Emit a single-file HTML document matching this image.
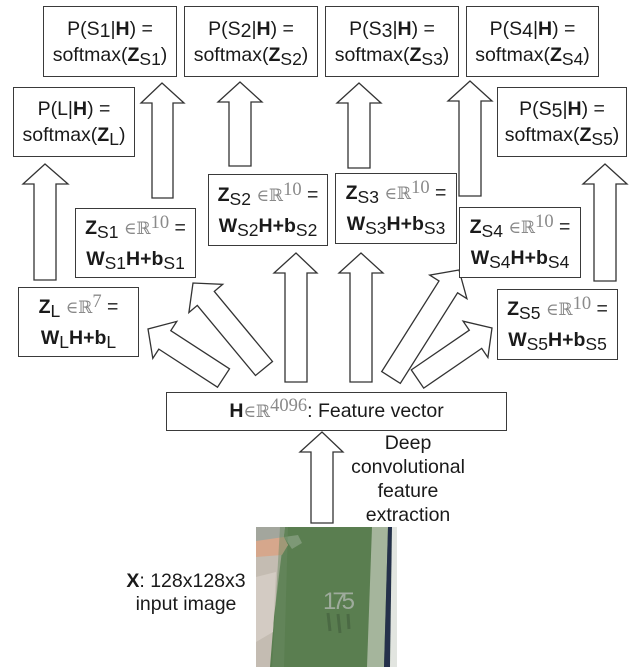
<!DOCTYPE html>
<html><head><meta charset="utf-8"><style>
html,body{margin:0;padding:0;background:#fff}
#c{position:relative;width:641px;height:672px;overflow:hidden;background:#fff;font-family:"Liberation Sans",Helvetica,Arial,sans-serif;color:#1a1a1a}
.b{position:absolute;box-sizing:border-box;border:1.5px solid #3a3a3a;background:#fff;display:flex;flex-direction:column;justify-content:center;align-items:center;font-size:19.5px;white-space:nowrap}
.t .l{line-height:26px}
.m .l{line-height:30px}
.s{font-size:17.5px;position:relative;top:4px}
.s1{position:relative;top:2px}
.r{color:#8a8a8a;font-family:"DejaVu Serif","Liberation Serif",serif;font-size:17px}
.sup{color:#8a8a8a;font-family:"Liberation Serif",serif;font-size:18.5px;position:relative;top:-6px}
.tx{position:absolute;font-size:19.5px;text-align:center;white-space:nowrap}
svg{position:absolute;left:0;top:0}
</style></head><body><div id="c">
<svg width="641" height="672" viewBox="0 0 641 672">
<g fill="#fff" stroke="#333" stroke-width="1.3" stroke-linejoin="miter">
<polygon points="152,198 152,103 141,103 162,83 184,103 173,103 173,198"/>
<polygon points="229,166 229,102 218,102 240,82 262,102 251,102 251,166"/>
<polygon points="34,280 34,184 23,184 45,164 68,184 56,184 56,280"/>
<polygon points="348,168 348,103 337,103 359,83 381,103 370,103 370,168"/>
<polygon points="459,196 459,101 448,101 470,81 492,101 481,101 481,196"/>
<polygon points="594,281 594,184 583,184 605,164 627,184 616,184 616,281"/>
<polygon points="285,382 285,273 274,273 296,253 317,273 307,273 307,382"/>
<polygon points="350,382 350,273 339,273 361,253 383,273 372,273 372,382"/>
<polygon points="311,523 311,452 300,452 322,432 343,452 333,452 333,523"/>
<polygon points="229.5,368.8 170.8,330.7 176.8,321.4 148,329 152.8,358.4 158.8,349.1 217.5,387.2"/>
<polygon points="272.5,361.5 214.3,291.4 222.7,284.3 193,283 188.9,312.5 197.3,305.4 255.5,375.5"/>
<polygon points="400.3,383.4 457.6,292.8 466.9,298.7 459,270 429.7,275.1 439,281 381.7,371.6"/>
<polygon points="423.7,388.1 481.7,348.4 487.9,357.5 492,328 463.1,321.2 469.3,330.2 411.3,369.9"/>
</g>
<g transform="translate(256,527)">
<rect x="0" y="0" width="141" height="140" fill="#5a7e50"/>
<polygon points="0,0 29,0 24,40 18,90 14,140 0,140" fill="#c4bcb2"/>
<polygon points="0,0 29,0 27,14 0,14" fill="#a3a69d"/>
<polygon points="0,50 20,45 17,105 0,115" fill="#d3cbc3"/>
<polygon points="0,14 28,10 32,18 26,28 0,30" fill="#d6a78c"/>
<path d="M28,10 L42,8 L46,16 L36,22 Z" fill="#7d9876"/>
<polygon points="24,0 32,0 28,140 16,140" fill="#6a8a61" opacity="0.5"/>
<polygon points="116,0 132,0 128,140 111,140" fill="#a5b59c"/>
<polygon points="132,0 136,0 134,140 128,140" fill="#24304a"/>
<polygon points="136,0 141,0 141,140 134,140" fill="#e2e5e0"/>
<text x="67" y="82" font-family="Liberation Sans,sans-serif" font-size="24" fill="#aab4aa" opacity="0.85" textLength="32">175</text>
<path d="M72,86 L74,104 M82,87 L84,106 M92,87 L93,102" stroke="#46623f" stroke-width="3" opacity="0.7"/>
</g>
</svg>

<div class="b t" style="left:43px;top:6px;width:134px;height:71px"><div class="l">P(S<span class="s1">1</span>|<b>H</b>) =</div><div class="l">softmax(<b>Z</b><span class="s">S1</span>)</div></div>
<div class="b t" style="left:184px;top:6px;width:134px;height:71px"><div class="l">P(S<span class="s1">2</span>|<b>H</b>) =</div><div class="l">softmax(<b>Z</b><span class="s">S2</span>)</div></div>
<div class="b t" style="left:325px;top:6px;width:134px;height:71px"><div class="l">P(S<span class="s1">3</span>|<b>H</b>) =</div><div class="l">softmax(<b>Z</b><span class="s">S3</span>)</div></div>
<div class="b t" style="left:466px;top:6px;width:133px;height:71px"><div class="l">P(S<span class="s1">4</span>|<b>H</b>) =</div><div class="l">softmax(<b>Z</b><span class="s">S4</span>)</div></div>
<div class="b t" style="left:13px;top:87px;width:122px;height:70px"><div class="l">P(L|<b>H</b>) =</div><div class="l">softmax(<b>Z</b><span class="s">L</span>)</div></div>
<div class="b t" style="left:497px;top:87px;width:130px;height:70px"><div class="l">P(S<span class="s1">5</span>|<b>H</b>) =</div><div class="l">softmax(<b>Z</b><span class="s">S5</span>)</div></div>

<div class="b m" style="left:75px;top:208px;width:121px;height:70px"><div class="l"><b>Z</b><span class="s">S1</span> <span class="r">∈ℝ</span><span class="sup">10</span> =</div><div class="l"><b>W</b><span class="s">S1</span><b>H+b</b><span class="s">S1</span></div></div>
<div class="b m" style="left:208px;top:174px;width:120px;height:72px"><div class="l"><b>Z</b><span class="s">S2</span> <span class="r">∈ℝ</span><span class="sup">10</span> =</div><div class="l"><b>W</b><span class="s">S2</span><b>H+b</b><span class="s">S2</span></div></div>
<div class="b m" style="left:335px;top:173px;width:122px;height:71px"><div class="l"><b>Z</b><span class="s">S3</span> <span class="r">∈ℝ</span><span class="sup">10</span> =</div><div class="l"><b>W</b><span class="s">S3</span><b>H+b</b><span class="s">S3</span></div></div>
<div class="b m" style="left:459px;top:207px;width:122px;height:71px"><div class="l"><b>Z</b><span class="s">S4</span> <span class="r">∈ℝ</span><span class="sup">10</span> =</div><div class="l"><b>W</b><span class="s">S4</span><b>H+b</b><span class="s">S4</span></div></div>
<div class="b m" style="left:18px;top:287px;width:121px;height:70px"><div class="l"><b>Z</b><span class="s">L</span> <span class="r">∈ℝ</span><span class="sup">7</span> =</div><div class="l"><b>W</b><span class="s">L</span><b>H+b</b><span class="s">L</span></div></div>
<div class="b m" style="left:497px;top:289px;width:121px;height:71px"><div class="l"><b>Z</b><span class="s">S5</span> <span class="r">∈ℝ</span><span class="sup">10</span> =</div><div class="l"><b>W</b><span class="s">S5</span><b>H+b</b><span class="s">S5</span></div></div>

<div class="b" style="left:166px;top:392px;width:341px;height:39px"><div><b>H</b><span class="r">∈ℝ</span><span class="sup">4096</span>: Feature vector</div></div>

<div class="tx" style="left:348px;top:431px;width:120px;line-height:24px">Deep<br>convolutional<br>feature<br>extraction</div>
<div class="tx" style="left:111px;top:570px;width:150px;line-height:23px"><b>X</b>: 128x128x3<br>input image</div>
</div></body></html>
